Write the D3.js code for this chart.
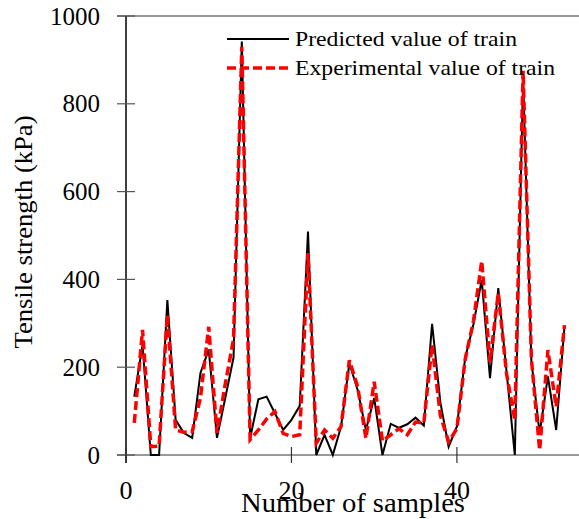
<!DOCTYPE html>
<html>
<head>
<meta charset="utf-8">
<script src="https://cdn.jsdelivr.net/npm/d3@7"></script>
<style>
  body { margin: 0; background: #fff; }
</style>
</head>
<body>
<div id="chart"></div>
<script>
// sample numbers 1..53
var samples = d3.range(1, 54);

var predicted = [133, 250, 0, 0, 353, 80, 50, 39, 187, 240,
  39, 130, 222, 942, 38, 127, 133, 95, 57, 80,
  112, 509, 0, 46, 0, 65, 209, 148, 57, 130,
  0, 71, 62, 70, 85, 67, 299, 120, 19, 65,
  221, 298, 399, 175, 380, 190, 0, 860, 215, 49,
  179, 57, 292];

var experimental = [73, 285, 19, 20, 319, 57, 52, 53, 130, 292,
  50, 162, 264, 930, 35, 57, 82, 99, 49, 42,
  46, 460, 27, 57, 38, 65, 216, 156, 38, 167,
  32, 46, 60, 46, 75, 73, 251, 90, 30, 60,
  218, 305, 442, 212, 369, 185, 80, 875, 220, 11,
  239, 110, 296];

var yTicks = [0, 200, 400, 600, 800, 1000];
var xTicks = [0, 20, 40];
var seriesNames = ["Predicted value of train", "Experimental value of train"];

var width = 579, height = 519;
var serif = "'Liberation Serif', 'Times New Roman', 'DejaVu Serif', serif";

var svg = d3.select("#chart").append("svg")
  .attr("width", width)
  .attr("height", height)
  .attr("font-family", serif);

var x = d3.scaleLinear().domain([0, 55]).range([126, 581]);
var y = d3.scaleLinear().domain([0, 1000]).range([455, 16]);

// top border + bottom axis line (grey)
svg.append("line")
  .attr("x1", 117).attr("x2", width)
  .attr("y1", y(1000)).attr("y2", y(1000))
  .attr("stroke", "#777").attr("stroke-width", 1.5);

svg.append("line")
  .attr("x1", 117).attr("x2", width)
  .attr("y1", y(0)).attr("y2", y(0))
  .attr("stroke", "#777").attr("stroke-width", 1.5);

// y axis
svg.append("line")
  .attr("x1", x(0)).attr("x2", x(0))
  .attr("y1", y(1000)).attr("y2", y(0) + 8)
  .attr("stroke", "#000").attr("stroke-width", 1.5);

svg.selectAll("line.ytick")
  .data(yTicks)
  .enter().append("line")
  .attr("class", "ytick")
  .attr("x1", x(0) - 9).attr("x2", x(0) + 9)
  .attr("y1", function (d) { return y(d); })
  .attr("y2", function (d) { return y(d); })
  .attr("stroke", "#555").attr("stroke-width", 1.2);

svg.selectAll("text.ylab")
  .data(yTicks)
  .enter().append("text")
  .attr("class", "ylab")
  .attr("x", 100)
  .attr("y", function (d) { return y(d); })
  .attr("dy", "0.34em")
  .attr("text-anchor", "end")
  .attr("font-family", serif)
  .attr("font-size", 25)
  .text(function (d) { return d; });

// x ticks
svg.selectAll("line.xtick")
  .data(xTicks)
  .enter().append("line")
  .attr("class", "xtick")
  .attr("x1", function (d) { return x(d); })
  .attr("x2", function (d) { return x(d); })
  .attr("y1", y(0) - 8).attr("y2", y(0) + 8)
  .attr("stroke", "#333").attr("stroke-width", 1.2);

svg.selectAll("text.xlab")
  .data(xTicks)
  .enter().append("text")
  .attr("class", "xlab")
  .attr("x", function (d) { return x(d); })
  .attr("y", 499)
  .attr("text-anchor", "middle")
  .attr("font-family", serif)
  .attr("font-size", 26)
  .text(function (d) { return d; });

// axis titles
svg.append("text")
  .attr("x", 353)
  .attr("y", 512)
  .attr("text-anchor", "middle")
  .attr("textLength", 224)
  .attr("lengthAdjust", "spacingAndGlyphs")
  .attr("font-family", serif)
  .attr("font-size", 27)
  .text("Number of samples");

svg.append("text")
  .attr("transform", "translate(32,232) rotate(-90)")
  .attr("text-anchor", "middle")
  .attr("textLength", 233)
  .attr("lengthAdjust", "spacingAndGlyphs")
  .attr("font-family", serif)
  .attr("font-size", 25)
  .text("Tensile strength (kPa)");

// lines
var line = d3.line()
  .x(function (d) { return x(d[0]); })
  .y(function (d) { return y(d[1]); });

svg.append("path")
  .datum(d3.zip(samples, predicted))
  .attr("fill", "none")
  .attr("stroke", "#000")
  .attr("stroke-width", 2)
  .attr("d", line);

svg.append("path")
  .datum(d3.zip(samples, experimental))
  .attr("fill", "none")
  .attr("stroke", "#ff0000")
  .attr("stroke-width", 3.5)
  .attr("stroke-dasharray", "9,4")
  .attr("d", line);

// legend
var legend = svg.append("g");
legend.append("line")
  .attr("x1", 227).attr("x2", 289)
  .attr("y1", 39).attr("y2", 39)
  .attr("stroke", "#000").attr("stroke-width", 2);
legend.append("line")
  .attr("x1", 227).attr("x2", 289)
  .attr("y1", 68).attr("y2", 68)
  .attr("stroke", "#ff0000").attr("stroke-width", 3.5)
  .attr("stroke-dasharray", "9,4");
legend.append("text")
  .attr("x", 295).attr("y", 46)
  .attr("textLength", 222)
  .attr("lengthAdjust", "spacingAndGlyphs")
  .attr("font-family", serif)
  .attr("font-size", 22)
  .text(seriesNames[0]);
legend.append("text")
  .attr("x", 295).attr("y", 75)
  .attr("textLength", 260)
  .attr("lengthAdjust", "spacingAndGlyphs")
  .attr("font-family", serif)
  .attr("font-size", 22)
  .text(seriesNames[1]);
</script>
</body>
</html>
